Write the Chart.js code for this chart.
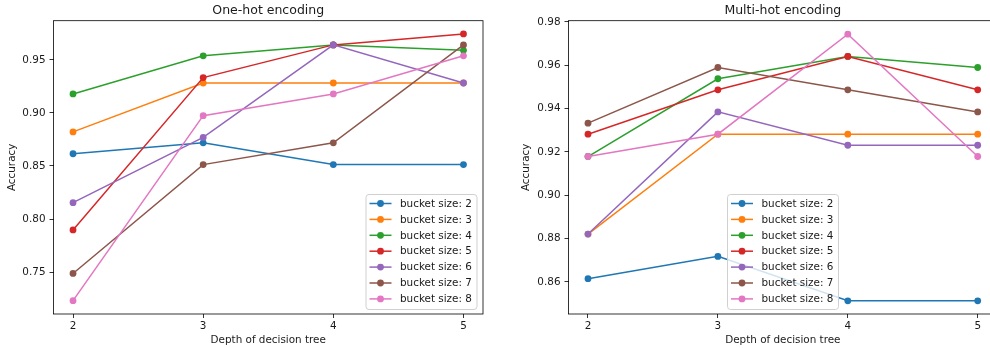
<!DOCTYPE html>
<html>
<head>
<meta charset="utf-8">
<script src="https://cdn.jsdelivr.net/npm/chart.js@4/dist/chart.umd.min.js"></script>
<style>
  html, body { margin: 0; padding: 0; background: #fff; overflow: hidden; }
  body { width: 990px; height: 348px; position: relative; }
  canvas { position: absolute; top: 0; }
  #oneHot { left: 0; }
  #multiHot { left: 495px; }
</style>
</head>
<body>
<canvas id="oneHot" width="495" height="348"></canvas>
<canvas id="multiHot" width="510" height="348"></canvas>
<script>
"use strict";

const depths = [2, 3, 4, 5];
const bucketSizes = [2, 3, 4, 5, 6, 7, 8];
const colors = ["#1f77b4", "#ff7f0e", "#2ca02c", "#d62728", "#9467bd", "#8c564b", "#e377c2"];

// accuracy per bucket size (rows) and depth (columns)
const oneHotAcc = [
    [0.8615, 0.8718, 0.8513, 0.8513],
    [0.8821, 0.9282, 0.9282, 0.9282],
    [0.9179, 0.9538, 0.9641, 0.9590],
    [0.7897, 0.9333, 0.9641, 0.9744],
    [0.8154, 0.8769, 0.9641, 0.9282],
    [0.7487, 0.8513, 0.8718, 0.9641],
    [0.7231, 0.8974, 0.9179, 0.9538]
];
const multiHotAcc = [
    [0.8615, 0.8718, 0.8513, 0.8513],
    [0.8821, 0.9282, 0.9282, 0.9282],
    [0.9179, 0.9538, 0.9641, 0.9590],
    [0.9282, 0.9487, 0.9641, 0.9487],
    [0.8821, 0.9385, 0.9231, 0.9231],
    [0.9333, 0.9590, 0.9487, 0.9385],
    [0.9179, 0.9282, 0.9744, 0.9179]
];

const oneHotTicks = [0.75, 0.80, 0.85, 0.90, 0.95];
const multiHotTicks = [0.86, 0.88, 0.90, 0.92, 0.94, 0.96, 0.98];

const FONT = "'DejaVu Sans', sans-serif";
const TEXT = "#1a1a1a";
const FS = 10.4;

function boxLegend(left, top) {
    return {
        id: "boxLegend",
        afterDatasetsDraw(chart) {
            const ctx = chart.ctx;
            const a = chart.chartArea;
            ctx.save();
            // spines
            ctx.strokeStyle = "#000";
            ctx.lineWidth = 0.8;
            ctx.strokeRect(a.left, a.top, a.right - a.left, a.bottom - a.top);

            const w = 111, h = 115;
            ctx.beginPath();
            ctx.roundRect(left + 0.5, top + 0.5, w, h, 3);
            ctx.fillStyle = "rgba(255,255,255,0.8)";
            ctx.fill();
            ctx.strokeStyle = "#d0d0d0";
            ctx.lineWidth = 1;
            ctx.stroke();

            ctx.font = FS + "px " + FONT;
            ctx.textBaseline = "middle";
            ctx.textAlign = "left";
            chart.data.datasets.forEach((ds, i) => {
                const y = top + 9.5 + i * 15.9;
                ctx.strokeStyle = ds.borderColor;
                ctx.lineWidth = 1.5;
                ctx.beginPath();
                ctx.moveTo(left + 4, y);
                ctx.lineTo(left + 26, y);
                ctx.stroke();
                ctx.fillStyle = ds.borderColor;
                ctx.beginPath();
                ctx.arc(left + 15, y, 3.4, 0, Math.PI * 2);
                ctx.fill();
                ctx.fillStyle = TEXT;
                ctx.fillText(ds.label, left + 34.5, y + 0.5);
            });
            ctx.restore();
        }
    };
}

function makeChart(id, title, acc, yTicks, yMin, yMax, yWidth, padRight, titleGap, legendPos) {
    const canvas = document.getElementById(id);
    return new Chart(canvas.getContext("2d"), {
        type: "line",
        data: {
            datasets: acc.map((vals, i) => ({
                label: "bucket size: " + bucketSizes[i],
                data: depths.map((d, j) => ({ x: d, y: vals[j] })),
                borderColor: colors[i],
                backgroundColor: colors[i],
                borderWidth: 1.5,
                pointRadius: 3.4,
                pointBorderWidth: 0,
                pointBackgroundColor: colors[i],
                tension: 0,
                fill: false,
                order: acc.length - i
            }))
        },
        options: {
            responsive: false,
            animation: false,
            devicePixelRatio: 1,
            layout: { padding: { left: 0, right: padRight, top: 0, bottom: 0 } },
            plugins: {
                legend: { display: false },
                tooltip: { enabled: false },
                title: {
                    display: true,
                    text: title,
                    fullSize: false,
                    color: TEXT,
                    font: { family: FONT, size: 12.5, weight: "normal", lineHeight: 1.2 },
                    padding: { top: 3.7, bottom: 2 }
                }
            },
            scales: {
                x: {
                    type: "linear",
                    min: 1.85,
                    max: 5.15,
                    afterBuildTicks: s => { s.ticks = depths.map(v => ({ value: v })); },
                    afterFit: s => { s.height = 34; },
                    border: { display: false },
                    grid: { drawOnChartArea: false, drawTicks: true, tickLength: 4, color: "#000", lineWidth: 0.8 },
                    ticks: { color: TEXT, padding: 2, font: { family: FONT, size: FS }, maxRotation: 0,
                        callback: v => String(v) },
                    title: { display: true, text: "Depth of decision tree", color: TEXT,
                        font: { family: FONT, size: FS }, padding: { top: 0, bottom: 1 } }
                },
                y: {
                    type: "linear",
                    min: yMin,
                    max: yMax,
                    afterBuildTicks: s => { s.ticks = yTicks.map(v => ({ value: v })); },
                    afterFit: s => { s.width = yWidth; },
                    border: { display: false },
                    grid: { drawOnChartArea: false, drawTicks: true, tickLength: 4, color: "#000", lineWidth: 0.8 },
                    ticks: { color: TEXT, padding: 4, font: { family: FONT, size: FS },
                        callback: v => v.toFixed(2) },
                    title: { display: true, text: "Accuracy", color: TEXT,
                        font: { family: FONT, size: FS }, padding: { top: titleGap, bottom: 0 } }
                }
            }
        },
        plugins: [boxLegend(legendPos[0], legendPos[1])]
    });
}

makeChart("oneHot", "One-hot encoding", oneHotAcc, oneHotTicks, 0.7105, 0.9869, 53.5, 12, 5.8, [365.5, 194]);
makeChart("multiHot", "Multi-hot encoding", multiHotAcc, multiHotTicks, 0.8452, 0.9806, 73.5, 7.8, 25.5, [232, 194]);
</script>
</body>
</html>
